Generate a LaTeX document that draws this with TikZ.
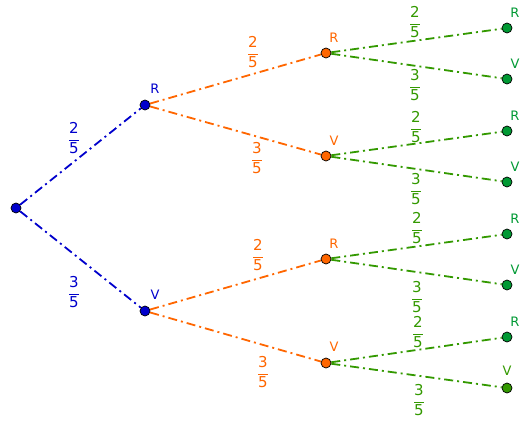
\documentclass[tikz,border=0pt]{standalone}
\usepackage{amsmath}
\usepackage{fontspec}
\setmainfont{DejaVu Sans}
\usetikzlibrary{backgrounds}
\definecolor{treeblue}{HTML}{0000CC}
\definecolor{treeorange}{HTML}{FF6600}
\definecolor{treegreen}{HTML}{339900}
\definecolor{leafgreen}{HTML}{009933}
\newcommand{\prob}[2]{$\dfrac{\text{#1}}{\text{#2}}$}

\begin{document}
\begin{tikzpicture}[
    x=1pt, y=-1pt,
    branch/.style={line width=1.8pt, dash pattern=on 9pt off 4pt on 2pt off 4pt},
    dot/.style={circle, draw=black, line width=0.7pt, minimum size=10pt, inner sep=0pt},
    outcome/.style={font=\fontsize{13}{15}\selectfont, inner sep=0pt},
    weight/.style={font=\fontsize{15}{17}\selectfont, inner sep=0pt},
  ]
  \useasboundingbox (0,0) rectangle (532,421);

  % level 1
  \node[dot, fill=treeblue] (root) at (16,208) {};
  \node[dot, fill=treeblue] (r) at (145,105) {};
  \node[dot, fill=treeblue] (v) at (145,311) {};
  \node[outcome, text=treeblue] (rl) at (155,89) {R};
  \node[outcome, text=treeblue] (vl) at (155,295) {V};

  % level 2
  \node[dot, fill=treeorange] (rr) at (326,53) {};
  \node[dot, fill=treeorange] (rv) at (326,156) {};
  \node[dot, fill=treeorange] (vr) at (326,259) {};
  \node[dot, fill=treeorange] (vv) at (326,363) {};
  \node[outcome, text=treeorange] (rrl) at (334,38) {R};
  \node[outcome, text=treeorange] (rvl) at (334,141) {V};
  \node[outcome, text=treeorange] (vrl) at (334,244) {R};
  \node[outcome, text=treeorange] (vvl) at (334,347) {V};

  % level 3
  \node[dot, fill=leafgreen] (rrr) at (507,28) {};
  \node[dot, fill=leafgreen] (rrv) at (507,79) {};
  \node[dot, fill=leafgreen] (rvr) at (507,131) {};
  \node[dot, fill=leafgreen] (rvv) at (507,182) {};
  \node[dot, fill=leafgreen] (vrr) at (507,234) {};
  \node[dot, fill=leafgreen] (vrv) at (507,285) {};
  \node[dot, fill=leafgreen] (vvr) at (507,337) {};
  \node[dot, fill=treegreen] (vvv) at (507,388) {};
  \node[outcome, text=leafgreen] (rrrl) at (515,13) {R};
  \node[outcome, text=leafgreen] (rrvl) at (515,64) {V};
  \node[outcome, text=leafgreen] (rvrl) at (515,116) {R};
  \node[outcome, text=leafgreen] (rvvl) at (515,167) {V};
  \node[outcome, text=leafgreen] (vrrl) at (515,219) {R};
  \node[outcome, text=leafgreen] (vrvl) at (515,270) {V};
  \node[outcome, text=leafgreen] (vvrl) at (515,322) {R};
  \node[outcome, text=treegreen] (vvvl) at (507,371) {V};

  % branches behind the dots
  \begin{scope}[on background layer]
    \draw[branch, treeblue] (root) -- (r);
    \draw[branch, treeblue] (root) -- (v);
    \draw[branch, treeorange] (r) -- (rr);
    \draw[branch, treeorange] (r) -- (rv);
    \draw[branch, treeorange] (v) -- (vr);
    \draw[branch, treeorange] (v) -- (vv);
    \foreach \p in {rr,rv,vr,vv}{
      \draw[branch, treegreen] (\p) -- (\p r);
      \draw[branch, treegreen] (\p) -- (\p v);
    }
  \end{scope}

  % weights
  \node[weight, text=treeblue] (w1) at (74,138) {\prob{2}{5}};
  \node[weight, text=treeblue] (w2) at (74,292) {\prob{3}{5}};
  \node[weight, text=treeorange] (w3) at (253,52) {\prob{2}{5}};
  \node[weight, text=treeorange] (w4) at (257,158) {\prob{3}{5}};
  \node[weight, text=treeorange] (w5) at (258,255) {\prob{2}{5}};
  \node[weight, text=treeorange] (w6) at (263,372) {\prob{3}{5}};
  \node[weight, text=treegreen] (w7) at (415,22) {\prob{2}{5}};
  \node[weight, text=treegreen] (w8) at (415,85) {\prob{3}{5}};
  \node[weight, text=treegreen] (w9) at (416,127) {\prob{2}{5}};
  \node[weight, text=treegreen] (w10) at (416,189) {\prob{3}{5}};
  \node[weight, text=treegreen] (w11) at (417,228) {\prob{2}{5}};
  \node[weight, text=treegreen] (w12) at (417,297) {\prob{3}{5}};
  \node[weight, text=treegreen] (w13) at (418,332) {\prob{2}{5}};
  \node[weight, text=treegreen] (w14) at (419,400) {\prob{3}{5}};
\end{tikzpicture}
\end{document}
